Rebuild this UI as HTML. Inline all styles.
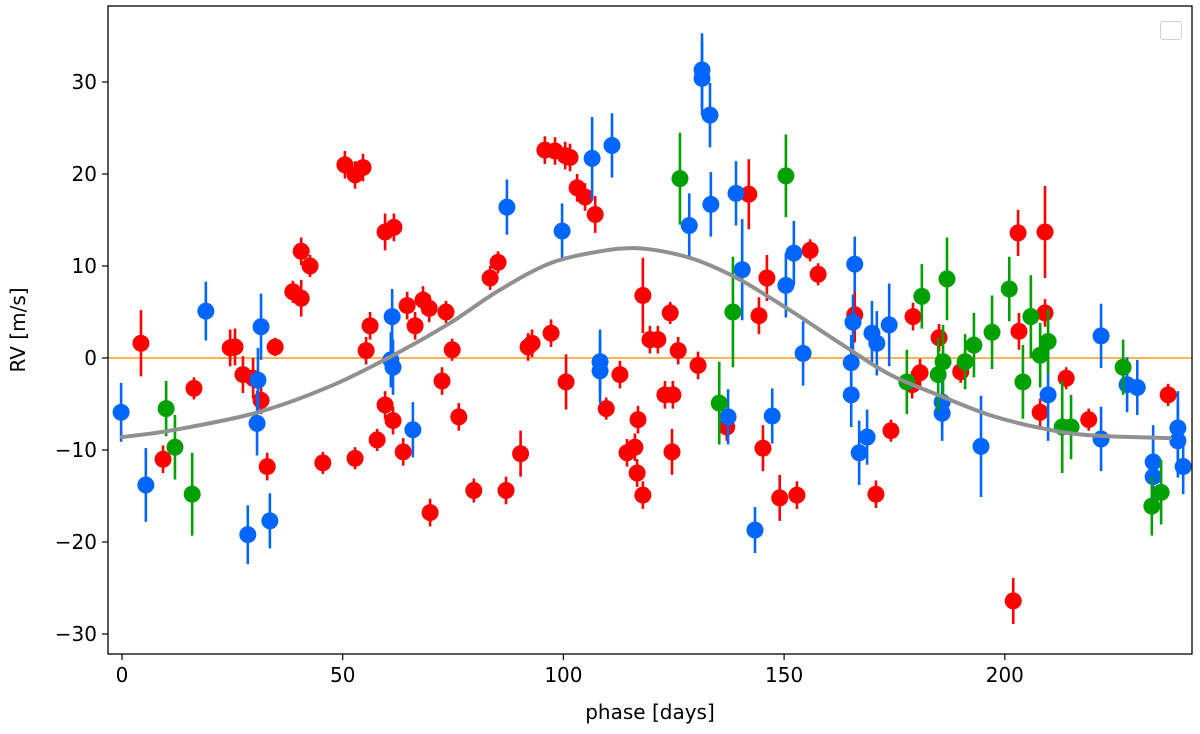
<!DOCTYPE html>
<html><head><meta charset="utf-8"><style>
html,body{margin:0;padding:0;background:#fff;}
svg{display:block;font-family:"DejaVu Sans","Liberation Sans",sans-serif;}
</style></head><body>
<svg id="chart" width="1200" height="734" viewBox="0 0 1200 734" xmlns="http://www.w3.org/2000/svg">
<g id="marks"></g>
<g id="axes"></g>
</svg>
<script>
// red series: phase [days], RV [m/s], error
const redX=[4.3,9.3,16.3,24.5,25.6,27.4,29.7,31.5,32.9,34.7,38.7,40.6,40.6,42.6,45.5,50.5,52.8,52.8,54.6,55.3,56.2,57.8,59.6,61.6,59.6,61.4,63.7,64.6,66.4,68.2,69.6,69.8,72.5,73.4,74.8,76.3,79.7,83.4,85.2,87,90.3,92,92.9,95.8,98.1,100.4,101.5,97.2,100.6,103.1,104.9,107.2,109.7,118,119.6,121.4,124.2,126,130.5,112.8,116.9,123,124.8,114.4,116.2,116.7,118,124.6,137,142,146.1,144.3,145.2,149,152.9,155.9,157.7,166,174.2,170.8,179.2,180.8,179,185.1,190,203,209.1,203.2,209.1,208,213.9,219,237,201.9];
const redY=[1.6,-11,-3.3,1.1,1.2,-1.8,-2.2,-4.6,-11.8,1.2,7.2,6.5,11.6,10,-11.4,21,-10.9,19.9,20.7,0.8,3.5,-8.9,13.7,14.2,-5.1,-6.8,-10.2,5.7,3.5,6.3,5.4,-16.8,-2.5,5,0.9,-6.4,-14.4,8.7,10.4,-14.4,-10.4,1.2,1.6,22.6,22.5,22,21.8,2.7,-2.6,18.5,17.5,15.6,-5.5,6.8,2,2,4.9,0.8,-0.8,-1.8,-6.7,-4,-4,-10.3,-9.7,-12.5,-14.9,-10.2,-7.5,17.8,8.7,4.6,-9.8,-15.2,-14.9,11.7,9.1,4.7,-7.9,-14.8,4.5,-1.6,-2.9,2.2,-1.5,13.6,13.7,2.9,4.9,-5.9,-2.2,-6.7,-4,-26.4];
const redE=[3.6,1.5,1.2,2,2,2,2.2,1.5,1.5,1,1.2,2,1.5,1.2,1.2,1.5,1.2,1.5,1.5,1.5,1.5,1.2,2,1.5,1.5,1.5,1.5,1.5,1.5,1.5,1.5,1.5,1.5,1.2,1.2,1.5,1.3,1.3,1.2,1.5,2.5,1.5,1.5,1.5,1.5,1.5,1.5,1.5,3,1.5,1.5,2,1.2,4.1,1.5,1.5,1.2,1.5,1.5,1.5,1.5,1.5,1.5,1.5,1.5,1.5,1.5,2.5,1.5,3.8,2.5,2,2.5,2.5,1.5,1.2,1.2,3,1.2,1.5,1.5,1.5,1.5,1.5,1.2,2.5,5,2,1.5,1.5,1.2,1.2,1.2,2.5];
// blue series
const blueX=[-0.2,5.4,19,31.5,30.8,30.6,28.5,33.5,61.2,60.9,61.4,65.9,87.2,99.7,106.5,111,108.3,108.3,128.5,131.4,131.4,133.2,133.4,139.1,140.5,137.3,147.3,143.4,150.4,152.2,154.3,166,165.6,165.2,165.2,169.9,171,173.8,168.8,167,185.8,185.8,209.8,194.6,221.8,221.8,227.7,230,233.6,233.6,239.2,239.2,240.4];
const blueY=[-5.9,-13.8,5.1,3.4,-2.4,-7.1,-19.2,-17.7,4.5,-0.2,-1,-7.8,16.4,13.8,21.7,23.1,-0.4,-1.4,14.4,31.3,30.4,26.4,16.7,17.9,9.6,-6.4,-6.3,-18.7,7.9,11.4,0.5,10.2,3.9,-0.5,-4,2.7,1.6,3.6,-8.6,-10.3,-4.8,-6,-4,-9.6,2.4,-8.8,-2.9,-3.2,-11.3,-12.9,-7.6,-9,-11.8];
const blueE=[3.2,4,3.2,3.6,3.5,3.5,3.2,3,3,3,3,3,3,3,4.5,3.5,3.5,3.5,3.5,4,4,3.5,3.5,3.5,5.5,3,3,2.5,3.5,3.5,3.5,3,3,3,3.5,3.5,3.5,4.5,3,3.5,3,3,5,5.5,3.5,3.5,3,3,4,4,4,4,3];
// green series
const greenX=[10,12,15.9,126.4,150.4,138.4,135.3,181.2,186.9,186,184.9,177.8,191,193,197.1,201,204.1,205.9,208,209.8,213,215,226.8,233.3,235.4];
const greenY=[-5.5,-9.7,-14.8,19.5,19.8,5,-4.9,6.7,8.6,-0.4,-1.8,-2.6,-0.4,1.4,2.8,7.5,-2.6,4.5,0.3,1.8,-7.5,-7.5,-1,-16.1,-14.6];
const greenE=[3,3.5,4.5,5,4.5,6,4.5,3.5,4.5,4,4,3.5,3,3.5,4,3.5,4,4.5,3.5,3.5,5,3.5,3,3.2,3.5];
// model curve samples
const modelX=[0,12,30.8,48,63,74.3,85.6,97,108.3,115.8,123.5,131,140,151.3,162.7,174,185.3,196.6,208,219.3,237.4];
const modelY=[-8.6,-7.8,-5.9,-2.9,0.7,3.8,7.4,10.3,11.6,11.95,11.5,10.5,8.5,5.2,1.6,-1.8,-4.1,-6.2,-7.6,-8.4,-8.7];
const xTicks=[0,50,100,150,200];
const yTicks=[-30,-20,-10,0,10,20,30];

const L=108,R=1192,T=6,B=654;
const X0=-3.17,X1=242.4,Y0=-32.17,Y1=38.26;
const sx=v=>L+(v-X0)/(X1-X0)*(R-L);
const sy=v=>B-(v-Y0)/(Y1-Y0)*(B-T);
const NS='http://www.w3.org/2000/svg';
function mk(tag,attrs,parent){const e=document.createElementNS(NS,tag);for(const k in attrs)e.setAttribute(k,attrs[k]);parent.appendChild(e);return e;}
const marks=document.getElementById('marks'), axes=document.getElementById('axes');

const zl=mk('line',{x1:L,x2:R,y1:sy(0),y2:sy(0),stroke:'#ff9a1a','stroke-width':1.5},marks);



function series(xs,ys,es,color,name){
  const g=mk('g',{},marks);
  
  
  for(let i=0;i<xs.length;i++){
    const eb=mk('line',{x1:sx(xs[i]),x2:sx(xs[i]),y1:sy(ys[i]-es[i]),y2:sy(ys[i]+es[i]),stroke:color,'stroke-width':2.6},g);
    
    
    const c=mk('circle',{cx:sx(xs[i]),cy:sy(ys[i]),r:8.5,fill:color},g);
    
    
  }
}
series(redX,redY,redE,'#ff0000','red');
series(blueX,blueY,blueE,'#0066ff','blue');
series(greenX,greenY,greenE,'#00a000','green');

// model curve (Catmull-Rom smoothing through samples)
const P=modelX.map((x,i)=>[sx(x),sy(modelY[i])]);
let d='M'+P[0][0].toFixed(1)+','+P[0][1].toFixed(1);
for(let i=0;i<P.length-1;i++){
  const p0=P[Math.max(0,i-1)],p1=P[i],p2=P[i+1],p3=P[Math.min(P.length-1,i+2)];
  const c1=[p1[0]+(p2[0]-p0[0])/6,p1[1]+(p2[1]-p0[1])/6];
  const c2=[p2[0]-(p3[0]-p1[0])/6,p2[1]-(p3[1]-p1[1])/6];
  d+='C'+c1[0].toFixed(1)+','+c1[1].toFixed(1)+' '+c2[0].toFixed(1)+','+c2[1].toFixed(1)+' '+p2[0].toFixed(1)+','+p2[1].toFixed(1);
}
const mc=mk('path',{d:d,fill:'none',stroke:'#909090','stroke-width':4,'stroke-linejoin':'round','stroke-linecap':'round'},marks);



const fr=mk('rect',{x:L,y:T,width:R-L,height:B-T,fill:'none',stroke:'#000','stroke-width':1.3},axes);



xTicks.forEach(v=>{
  const t=mk('line',{x1:sx(v),x2:sx(v),y1:B,y2:B+6,stroke:'#000','stroke-width':1.2},axes);
  
  
  const tx=mk('text',{x:sx(v),y:B+28,'text-anchor':'middle','font-size':20,fill:'#000'},axes);
  tx.textContent=v;
  
  
});
yTicks.forEach(v=>{
  const t=mk('line',{x1:L-6,x2:L,y1:sy(v),y2:sy(v),stroke:'#000','stroke-width':1.2},axes);
  
  
  const tx=mk('text',{x:L-11,y:sy(v)+7,'text-anchor':'end','font-size':20,fill:'#000'},axes);
  tx.textContent=v<0?'\u2212'+(-v):v;
  
  
});
</script>
<div style="position:absolute;left:570px;top:700px;width:160px;text-align:center;font:20px 'DejaVu Sans','Liberation Sans',sans-serif;">phase [days]</div>
<div style="position:absolute;left:-32px;top:318px;width:100px;text-align:center;transform:rotate(-90deg);font:20px 'DejaVu Sans','Liberation Sans',sans-serif;">RV [m/s]</div>
<div style="position:absolute;left:1160px;top:21px;width:20px;height:17px;border:1px solid #d0d0d0;border-radius:3px;background:#fff;"></div>
</body></html>
